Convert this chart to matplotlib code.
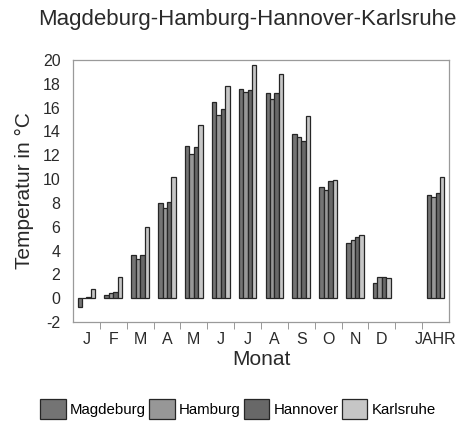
import matplotlib
matplotlib.use("Agg")
import matplotlib.pyplot as plt
import numpy as np

plt.rcParams['font.family'] = ['Liberation Sans', 'DejaVu Sans']

months = ["J", "F", "M", "A", "M", "J", "J", "A", "S", "O", "N", "D", "", "JAHR"]
cities = ["Magdeburg", "Hamburg", "Hannover", "Karlsruhe"]
magdeburg = [-0.7, 0.3, 3.6, 8.0, 12.8, 16.5, 17.6, 17.2, 13.8, 9.3, 4.6, 1.3, None, 8.7]
hamburg   = [0.0, 0.4, 3.3, 7.6, 12.1, 15.4, 17.3, 16.7, 13.5, 9.1, 4.9, 1.8, None, 8.5]
hannover  = [0.1, 0.5, 3.6, 8.1, 12.7, 15.9, 17.5, 17.2, 13.2, 9.85, 5.1, 1.8, None, 8.8]
karlsruhe = [0.8, 1.8, 6.0, 10.2, 14.5, 17.8, 19.6, 18.8, 15.3, 9.9, 5.3, 1.7, None, 10.2]
series = [magdeburg, hamburg, hannover, karlsruhe]
colors = ["#747474", "#979797", "#686868", "#c6c6c6"]
txt = "#2a2a2a"

fig = plt.figure(figsize=(4.67, 4.23), dpi=100)
ax = fig.add_axes([73/467, 1-322/423, (449-73)/467, (322-60)/423])

x = np.arange(len(months))
w = 0.165
for i, (vals, c, name) in enumerate(zip(series, colors, cities)):
    xs = [xi for xi, v in zip(x, vals) if v is not None]
    vs = [v for v in vals if v is not None]
    ax.bar(np.array(xs) + (i - 1.5) * w, vs, width=w, color=c,
           edgecolor="#262626", linewidth=0.9, label=name)

ax.set_xlim(-0.5, len(months) - 0.5)
ax.set_ylim(-2, 20)
ax.set_yticks(np.arange(-2, 21, 2))
ax.set_yticklabels([str(v) for v in range(-2, 21, 2)], fontsize=11.5, color=txt)
ax.tick_params(axis="y", length=0, pad=9)
ax.set_xticks(x)
ax.set_xticklabels(months, fontsize=11.5, color=txt)
ax.set_xticks(np.arange(0.5, len(months) - 0.5, 1), minor=True)
ax.tick_params(axis="x", which="major", length=0, pad=7)
ax.tick_params(axis="x", which="minor", length=5, color="#888888", direction="out")
for s in ax.spines.values():
    s.set_color("#9a9a9a")
    s.set_linewidth(0.9)

ax.set_ylabel("Temperatur in °C", fontsize=15, color=txt, labelpad=6)
ax.set_xlabel("Monat", fontsize=15, color=txt, labelpad=2)

fig.text(0.53, 1-20/423, "Magdeburg-Hamburg-Hannover-Karlsruhe", ha="center", va="center",
         fontsize=16, color=txt)

fig.legend(loc="center", bbox_to_anchor=(0.51, 1-409/423), ncol=4, frameon=False,
           fontsize=10.8, handlelength=1.7, handleheight=1.7, handletextpad=0.3,
           columnspacing=0.2, borderpad=0)

fig.savefig("out.png", dpi=100)
